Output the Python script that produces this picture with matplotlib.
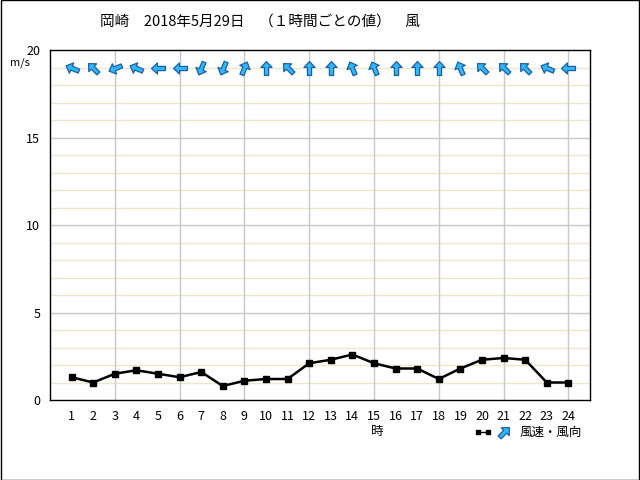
import numpy as np
import matplotlib
matplotlib.use('Agg')
import matplotlib.pyplot as plt
from matplotlib.markers import MarkerStyle
from matplotlib.path import Path
from matplotlib.transforms import Affine2D

plt.rcParams['font.family'] = ['Noto Sans CJK JP', 'DejaVu Sans']

hours = list(range(1, 25))
speed = [1.3, 1.0, 1.5, 1.7, 1.5, 1.3, 1.6, 0.8, 1.1, 1.2, 1.2, 2.1,
         2.3, 2.6, 2.1, 1.8, 1.8, 1.2, 1.8, 2.3, 2.4, 2.3, 1.0, 1.0]
# wind comes from these directions
direction = ['ESE', 'SE', 'ENE', 'ESE', 'E', 'E', 'NNE', 'NNE', 'SSW', 'S', 'SE', 'S',
             'S', 'SSE', 'SSE', 'S', 'S', 'S', 'SSE', 'SE', 'SE', 'SE', 'ESE', 'E']
compass = ['N', 'NNE', 'NE', 'ENE', 'E', 'ESE', 'SE', 'SSE',
           'S', 'SSW', 'SW', 'WSW', 'W', 'WNW', 'NW', 'NNW']

title = '岡崎　2018年5月29日　（１時間ごとの値）　風'

# block arrow pointing right (+x)
verts = [(1.0, 0.0), (0.15, 0.8), (0.15, 0.3), (-1.0, 0.3), (-1.0, -0.3),
         (0.15, -0.3), (0.15, -0.8), (1.0, 0.0)]
codes = [Path.MOVETO] + [Path.LINETO] * 6 + [Path.CLOSEPOLY]
arrow_path = Path(verts, codes)

def arrow_marker(frm):
    # arrow points where the wind blows to
    bearing_to = compass.index(frm) * 22.5 + 180
    ang = 90 - bearing_to
    return MarkerStyle(arrow_path, transform=Affine2D().rotate_deg(ang))

fig = plt.figure(figsize=(6.4, 4.8), dpi=100)
ax = fig.add_axes([50/640, 80/480, 540/640, 350/480])

for y in range(1, 20):
    if y % 5 != 0:
        ax.axhline(y, color='#eee6c8', lw=1, zorder=0)
for y in [5, 10, 15]:
    ax.axhline(y, color='#c8c8c8', lw=1, zorder=0)
for x in range(3, 25, 3):
    ax.axvline(x, color='#c8c8c8', lw=1, zorder=0)

ax.plot(hours, speed, color='black', lw=1.8, marker='s', ms=5, zorder=3)

for h, d in zip(hours, direction):
    ax.plot(h, 19, marker=arrow_marker(d), ms=10, mfc='#30b8f8', mec='#1a5fa8',
            mew=0.9, ls='none', zorder=4)

ax.set_xlim(0, 25)
ax.set_ylim(0, 20)
ax.set_xticks(hours)
ax.set_yticks([0, 5, 10, 15, 20])
ax.tick_params(length=0, labelsize=9, pad=7)
for s in ax.spines.values():
    s.set_color('black')
    s.set_linewidth(1)

fig.text(100/640, 1 - 22/480, title, fontsize=10.5, ha='left', va='center')
fig.text(10/640, 1 - 63/480, 'm/s', fontsize=8, ha='left', va='center')
fig.text(377/640, 1 - 432/480, '時', fontsize=9, ha='center', va='center')
fig.text(520/640, 1 - 432/480, '風速・風向', fontsize=9, ha='left', va='center')

# legend sample
lg = fig.add_axes([470/640, 1 - 440/480, 45/640, 16/480])
lg.set_xlim(0, 45)
lg.set_ylim(0, 16)
lg.axis('off')
lg.plot([8, 18], [8, 8], color='black', lw=1, marker='s', ms=2.5)
lg.plot([34], [8], marker=MarkerStyle(arrow_path, transform=Affine2D().rotate_deg(45)),
        ms=10, mfc='#30b8f8', mec='#1a5fa8', mew=0.9)

# outer frame
fig.patches.append(plt.Rectangle((0.0008, 0.001), 0.998, 0.998, transform=fig.transFigure,
                                 fill=False, ec='black', lw=1))

fig.savefig('out.png', dpi=100)
